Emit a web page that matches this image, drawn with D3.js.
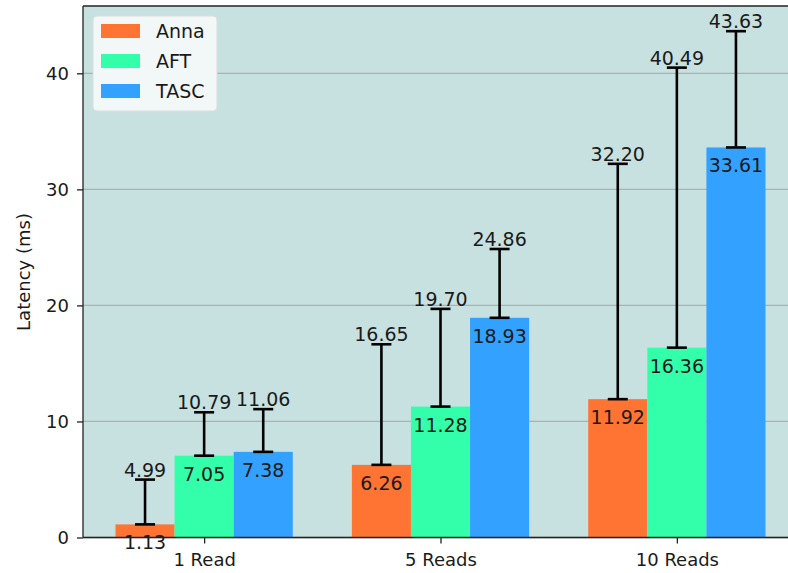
<!DOCTYPE html>
<head>
<meta charset="utf-8">
<style>
body { margin: 0; background: #fff; }
svg text { font-family: "DejaVu Sans", sans-serif; fill: #1a1a1a; }
.axis text { font-size: 18px; }
.axis path, .axis line { stroke: #222; stroke-width: 1.3; }
.grid line { stroke: #b0b0b0; stroke-width: 1.3; }
.value text { font-size: 19px; text-anchor: middle; }
.legend text { font-size: 19px; }
</style>
</head>
<body>
<svg class="chart"></svg>
<script src="https://cdnjs.cloudflare.com/ajax/libs/d3/7.8.5/d3.min.js"></script>
<script>

const groups = ['1 Read', '5 Reads', '10 Reads']
const systems = ['Anna', 'AFT', 'TASC']
const colors = ['#ff7433', '#33ffaa', '#33a1ff']
// mean latency per system, one entry per group
const means = {
  Anna: [1.13, 6.26, 11.92],
  AFT: [7.05, 11.28, 16.36],
  TASC: [7.38, 18.93, 33.61]
}
// upper end of the error bar
const uppers = {
  Anna: [4.99, 16.65, 32.20],
  AFT: [10.79, 19.70, 40.49],
  TASC: [11.06, 24.86, 43.63]
}
const yTicks = [0, 10, 20, 30, 40]

const size = {width: 788, height: 573}
const plot = {left: 83, top: 6, right: 798, bottom: 537.5}
const barWidth = 0.25

let chart = d3.select('svg')
  .attr('width', size.width)
  .attr('height', size.height)

let x = d3.scaleLinear()
  .domain([-0.5125, 2.5125])
  .range([plot.left, plot.right])

let y = d3.scaleLinear()
  .domain([0, 45.8])
  .range([plot.bottom, plot.top])

chart.append('rect')
  .attr('x', plot.left)
  .attr('y', plot.top)
  .attr('width', plot.right - plot.left)
  .attr('height', plot.bottom - plot.top)
  .style('fill', '#c7e1e1')

chart.append('g')
  .attr('class', 'grid')
  .selectAll('line')
  .data(yTicks)
  .enter()
  .append('line')
    .attr('x1', plot.left)
    .attr('x2', plot.right)
    .attr('y1', d => y(d))
    .attr('y2', d => y(d))

let rows = []
systems.forEach((s, si) => {
  groups.forEach((g, gi) => {
    rows.push({
      system: s,
      color: colors[si],
      pos: gi + (si - 1) * barWidth,
      mean: means[s][gi],
      upper: uppers[s][gi]
    })
  })
})

chart.append('g')
  .selectAll('rect')
  .data(rows)
  .enter()
  .append('rect')
    .attr('x', d => x(d.pos - barWidth / 2))
    .attr('width', x(barWidth) - x(0))
    .attr('y', d => y(d.mean))
    .attr('height', d => y(0) - y(d.mean))
    .style('fill', d => d.color)

let err = chart.append('g')
  .style('stroke', '#000')
  .style('stroke-width', 2.6)
  .selectAll('g')
  .data(rows)
  .enter()
  .append('g')

err.append('line')
  .attr('x1', d => x(d.pos))
  .attr('x2', d => x(d.pos))
  .attr('y1', d => y(d.mean))
  .attr('y2', d => y(d.upper))

err.selectAll('line.cap')
  .data(d => [{pos: d.pos, v: d.mean}, {pos: d.pos, v: d.upper}])
  .enter()
  .append('line')
    .attr('class', 'cap')
    .attr('x1', d => x(d.pos) - 10)
    .attr('x2', d => x(d.pos) + 10)
    .attr('y1', d => y(d.v))
    .attr('y2', d => y(d.v))

let labels = chart.append('g').attr('class', 'value')

labels.selectAll('text.up')
  .data(rows)
  .enter()
  .append('text')
    .attr('class', 'up')
    .attr('x', d => x(d.pos))
    .attr('y', d => y(d.upper) - 3)
    .text(d => d.upper.toFixed(2))

labels.selectAll('text.mean')
  .data(rows)
  .enter()
  .append('text')
    .attr('class', 'mean')
    .attr('x', d => x(d.pos))
    .attr('y', d => y(d.mean) + 25)
    .text(d => d.mean.toFixed(2))

// axes
let yAxis = chart.append('g')
  .attr('class', 'axis')
  .attr('transform', `translate(${plot.left},0)`)
  .call(d3.axisLeft(y).tickValues(yTicks).tickSize(6).tickPadding(8))
yAxis.select('.domain').remove()

let xAxis = chart.append('g')
  .attr('class', 'axis')
  .attr('transform', `translate(0,${plot.bottom})`)
  .call(d3.axisBottom(x).tickValues([0, 1, 2]).tickFormat(i => groups[i]).tickSize(6).tickPadding(10))
xAxis.select('.domain').remove()

chart.append('g')
  .style('stroke', '#222')
  .style('stroke-width', 1.3)
  .call(g => {
    g.append('line').attr('x1', plot.left).attr('x2', plot.left).attr('y1', plot.top).attr('y2', plot.bottom)
    g.append('line').attr('x1', plot.left).attr('x2', plot.right).attr('y1', plot.top).attr('y2', plot.top)
    g.append('line').attr('x1', plot.left).attr('x2', plot.right).attr('y1', plot.bottom).attr('y2', plot.bottom)
  })

chart.append('text')
  .attr('transform', `translate(30, 272) rotate(-90)`)
  .style('text-anchor', 'middle')
  .style('font-size', '18px')
  .text('Latency (ms)')

// legend
let legend = chart.append('g')
  .attr('class', 'legend')
  .attr('transform', 'translate(93, 16)')

legend.append('rect')
  .attr('width', 124)
  .attr('height', 95)
  .attr('rx', 4)
  .style('fill', '#f2f7f7')
  .style('stroke', '#dddddd')

let item = legend.selectAll('g')
  .data(systems)
  .enter()
  .append('g')
    .attr('transform', (d, i) => `translate(8, ${8 + i * 30})`)

item.append('rect')
  .attr('width', 39)
  .attr('height', 14)
  .style('fill', (d, i) => colors[i])

item.append('text')
  .attr('x', 55)
  .attr('y', 14)
  .text(d => d)

</script>
</body>
